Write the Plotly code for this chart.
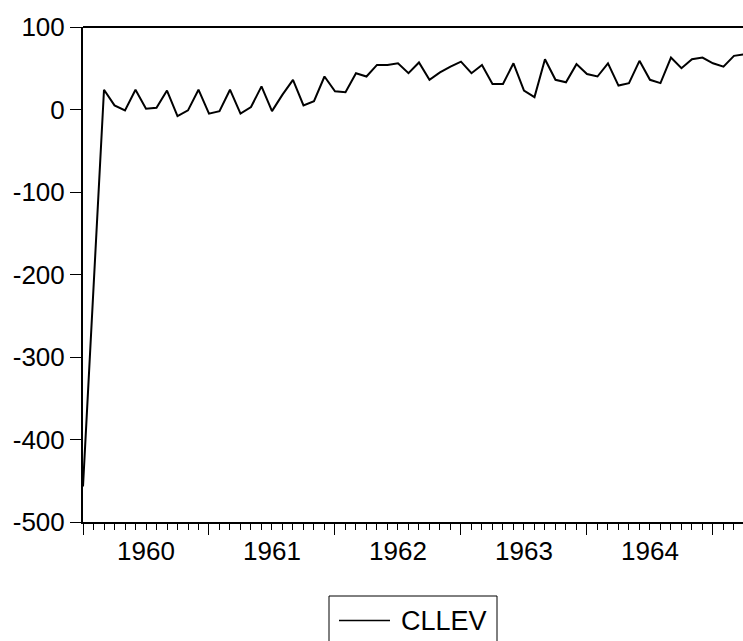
import plotly.graph_objects as go

# Monthly series CLLEV, 1960M01 onward
start_year = 1960
cllev = [
    -457, -216, 24, 5, -1, 24, 1, 2, 23, -8, -1, 24,
    -5, -2, 24, -5, 3, 28, -2, 18, 36, 5, 10, 40,
    22, 21, 44, 40, 54, 54, 56, 44, 57, 36, 45, 52,
    58, 44, 54, 31, 31, 56, 23, 15, 61, 36, 33, 55,
    43, 40, 56, 29, 32, 59, 36, 32, 63, 50, 61, 63,
    56, 52, 65, 67,
]
series_name = "CLLEV"
periods = [f"{start_year + i // 12}M{i % 12 + 1:02d}" for i in range(len(cllev))]
month_index = list(range(len(cllev)))

year_labels = ["1960", "1961", "1962", "1963", "1964"]
year_starts = [12 * i for i in range(len(year_labels) + 1)]
year_centers = [12 * i + 6 for i in range(len(year_labels))]
y_ticks = [-500, -400, -300, -200, -100, 0, 100]
y_ticktext = [str(v) for v in y_ticks]  # plain hyphen for negatives

FONT = "Liberation Sans, Arial, sans-serif"
x_range = [0, 62.86]

W, H = 743, 641
M_L, M_R, M_T, M_B = 83, 0, 27, 119
PLOT_W = W - M_L - M_R
PLOT_H = H - M_T - M_B


def px_x(px):
    """Pixel column -> paper x."""
    return (px - M_L) / PLOT_W


def px_y(py):
    """Pixel row (from top) -> paper y."""
    return (H - M_B - py) / PLOT_H


fig = go.Figure()
fig.add_trace(go.Scatter(
    x=month_index, y=cllev, customdata=periods,
    mode="lines", name=series_name, showlegend=False,
    line=dict(color="black", width=2),
    hovertemplate="%{customdata}: %{y}<extra></extra>",
))

# boxed key below the chart
legend_box = dict(type="rect", xref="paper", yref="paper",
                  x0=px_x(329), x1=px_x(497), y0=px_y(646), y1=px_y(596),
                  line=dict(color="black", width=1), fillcolor="white")
legend_line = dict(type="line", xref="paper", yref="paper",
                   x0=px_x(339), x1=px_x(390), y0=px_y(620.5), y1=px_y(620.5),
                   line=dict(color="black", width=1.6))
top_frame = dict(type="line", xref="paper", yref="paper",
                 x0=0, x1=1, y0=1, y1=1,
                 line=dict(color="black", width=2))

fig.update_layout(
    width=W, height=H,
    margin=dict(l=M_L, r=M_R, t=M_T, b=M_B),
    paper_bgcolor="white", plot_bgcolor="white",
    font=dict(family=FONT, size=26, color="black"),
    showlegend=False,
    xaxis=dict(
        range=x_range, showgrid=False, zeroline=False,
        showline=True, linecolor="black", linewidth=2,
        tickvals=year_starts, ticktext=[""] * len(year_starts),
        ticks="outside", ticklen=11, tickwidth=1, tickcolor="black",
        minor=dict(dtick=1, tick0=0, ticks="outside", ticklen=6,
                   tickwidth=1, tickcolor="black", showgrid=False),
    ),
    xaxis2=dict(
        overlaying="x", matches="x", range=x_range, side="bottom",
        showgrid=False, zeroline=False, showline=False,
        tickvals=year_centers, ticktext=year_labels,
        ticks="outside", ticklen=6, tickcolor="rgba(0,0,0,0)",
        tickfont=dict(size=26),
    ),
    yaxis=dict(
        range=[-500, 100], tickvals=y_ticks, ticktext=y_ticktext,
        showgrid=False, zeroline=False,
        showline=True, linecolor="black", linewidth=2,
        ticks="outside", ticklen=11, tickwidth=1, tickcolor="black",
        tickfont=dict(size=26),
    ),
    shapes=[top_frame, legend_box, legend_line],
    annotations=[dict(
        text=series_name, xref="paper", yref="paper",
        x=px_x(399), y=px_y(620.5), xanchor="left", yanchor="middle",
        showarrow=False, font=dict(size=27, color="black"),
    )],
)

# invisible trace so the overlay axis carrying the year labels is drawn
fig.add_trace(go.Scatter(x=[x_range[0]], y=[None], xaxis="x2",
                         showlegend=False, hoverinfo="skip"))

fig.write_html("out.html")
